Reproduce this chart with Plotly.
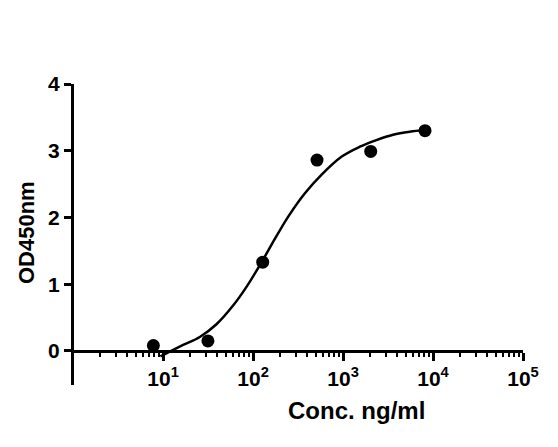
import plotly.graph_objects as go

# measured points (conc in ng/ml, OD450)
conc = [7.8, 31.5, 128, 514, 2030, 8150]
od450 = [0.08, 0.15, 1.33, 2.86, 2.99, 3.30]

# fitted curve
curve_conc = [9.33, 11.86, 16.7, 25.6, 39.2, 60, 84.5, 127, 160, 245, 375, 575,
              960, 1535, 2350, 3600, 5510, 8090]
curve_od = [-0.08, -0.01, 0.09, 0.21, 0.40, 0.68, 0.96, 1.35, 1.59, 2.01, 2.36,
            2.64, 2.91, 3.06, 3.16, 3.24, 3.285, 3.31]

x_tickvals = [10, 100, 1000, 10000, 100000]
x_ticktext = ["10<sup>1</sup>", "10<sup>2</sup>", "10<sup>3</sup>",
              "10<sup>4</sup>", "10<sup>5</sup>"]
y_ticks = [0, 1, 2, 3, 4]
y_min, y_max = -0.51, 4

font_b = dict(family="Liberation Sans, Arial, sans-serif", color="black", weight="bold")

fig = go.Figure()
fig.add_trace(go.Scatter(
    x=curve_conc, y=curve_od, mode="lines",
    line=dict(color="black", width=2.5, shape="spline", smoothing=1),
    hoverinfo="skip",
))
fig.add_trace(go.Scatter(
    x=conc, y=od450, mode="markers",
    marker=dict(color="black", size=13),
))

# page body has an 8px margin, so the figure is a bit smaller than the window
fig.update_layout(
    width=550, height=439,
    margin=dict(l=66, r=35, t=76, b=62),
    plot_bgcolor="white", paper_bgcolor="white",
    showlegend=False,
    xaxis=dict(
        type="log", range=[0.01, 5],
        tickvals=x_tickvals, ticktext=x_ticktext,
        showline=True, linecolor="black", linewidth=3,
        ticks="outside", ticklen=8, tickwidth=2.5, tickcolor="black",
        minor=dict(ticks="outside", ticklen=4, tickwidth=2, tickcolor="black",
                   dtick="D1", showgrid=False),
        showgrid=False, zeroline=False, automargin=False,
        anchor="free", position=(0 - y_min) / (y_max - y_min),
        tickfont=dict(size=21, **font_b),
    ),
    yaxis=dict(
        range=[y_min, y_max], tickvals=y_ticks,
        showline=True, linecolor="black", linewidth=3,
        ticks="outside", ticklen=7, tickwidth=2.5, tickcolor="black",
        showgrid=False, zeroline=False, automargin=False,
        tickfont=dict(size=21, **font_b),
    ),
    annotations=[
        dict(text="OD450nm", xref="paper", yref="paper", x=-0.107, y=0.508,
             xanchor="center", yanchor="middle", textangle=-90, showarrow=False,
             font=dict(size=22, **font_b)),
        dict(text="Conc. ng/ml", xref="paper", yref="paper", x=0.63, y=-0.085,
             xanchor="center", yanchor="middle", showarrow=False,
             font=dict(size=24, **font_b)),
    ],
)

fig.write_html("out.html")
